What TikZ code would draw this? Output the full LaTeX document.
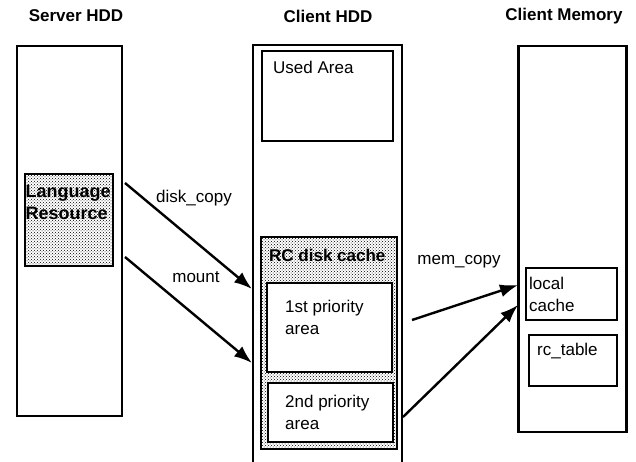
\documentclass[tikz,border=0pt]{standalone}
\usepackage{fontspec}
\setmainfont{Liberation Sans}
\usetikzlibrary{arrows.meta,patterns}

\begin{document}
\begin{tikzpicture}[x=1pt,y=-1pt,
  every node/.style={font=\fontsize{17}{22}\selectfont,inner sep=0pt},
  title/.style={font=\fontsize{17}{22}\selectfont\bfseries},
  outer/.style={draw,line width=2.2pt},
  inner/.style={draw,line width=1.4pt},
  dotbox/.style={draw,line width=1.4pt,pattern=crosshatch dots,pattern color=black},
  txt/.style={anchor=west,align=left},
  flow/.style={line width=2.4pt,-{Latex[length=18pt,width=13pt]}}]
\useasboundingbox (0,0) rectangle (636,462);
% titles
\node[title] (t1) at (76,16) {Server HDD};
\node[title] (t2) at (328,16) {Client HDD};
\node[title] (t3) at (564,16) {Client Memory};
% server side
\node[outer,minimum width=105,minimum height=370] (server) at (69.5,231) {};
\node[dotbox,minimum width=88,minimum height=92] (langres) at (69,220) {};
\node[txt,font=\fontsize{18}{22}\selectfont\bfseries] (langtxt) at (25.5,202) {Language\\Resource};
% client hdd (open at the bottom)
\draw[outer] (253,462) |- (402,45) -- (402,462);
\node[inner,minimum width=131,minimum height=90] (used) at (327.5,96) {};
\node[txt] (usedtxt) at (273,67) {Used Area};
\node[dotbox,minimum width=136,minimum height=212] (rc) at (329,343) {};
\node[txt,font=\fontsize{17}{22}\selectfont\bfseries] (rctxt) at (269,255) {RC disk cache};
\node[inner,fill=white,minimum width=125,minimum height=89] (prio1) at (329.5,327.5) {};
\node[txt] (p1txt) at (285,317) {1st priority\\area};
\node[inner,fill=white,minimum width=125,minimum height=59] (prio2) at (330.5,412.5) {};
\node[txt] (p2txt) at (285,412) {2nd priority\\area};
% client memory
\node[outer,minimum width=108,minimum height=386] (mem) at (572.5,239) {};
\node[inner,minimum width=91,minimum height=52] (local) at (571.5,294) {};
\node[txt] (localtxt) at (529,294) {local\\cache};
\node[inner,minimum width=88,minimum height=51] (rctab) at (573,360.5) {};
\node[txt] (rctabtxt) at (537,351) {rc\_table};
% connectors
\coordinate (dcA) at (125,183);
\coordinate (dcB) at (252,289);
\coordinate (mtA) at (125,257);
\coordinate (mtB) at (252,363);
\coordinate (mcA) at (412,320);
\coordinate (mcB) at (518,285);
\coordinate (mcC) at (403,417);
\coordinate (mcD) at (518,305);
\draw[flow] (dcA) -- (dcB);
\draw[flow] (mtA) -- (mtB);
\draw[flow] (mcA) -- (mcB);
\draw[flow] (mcC) -- (mcD);
\node (dclab) at (194,198) {disk\_copy};
\node (mtlab) at (196,277) {mount};
\node (mclab) at (459,262) {mem\_copy};
\end{tikzpicture}
\end{document}
